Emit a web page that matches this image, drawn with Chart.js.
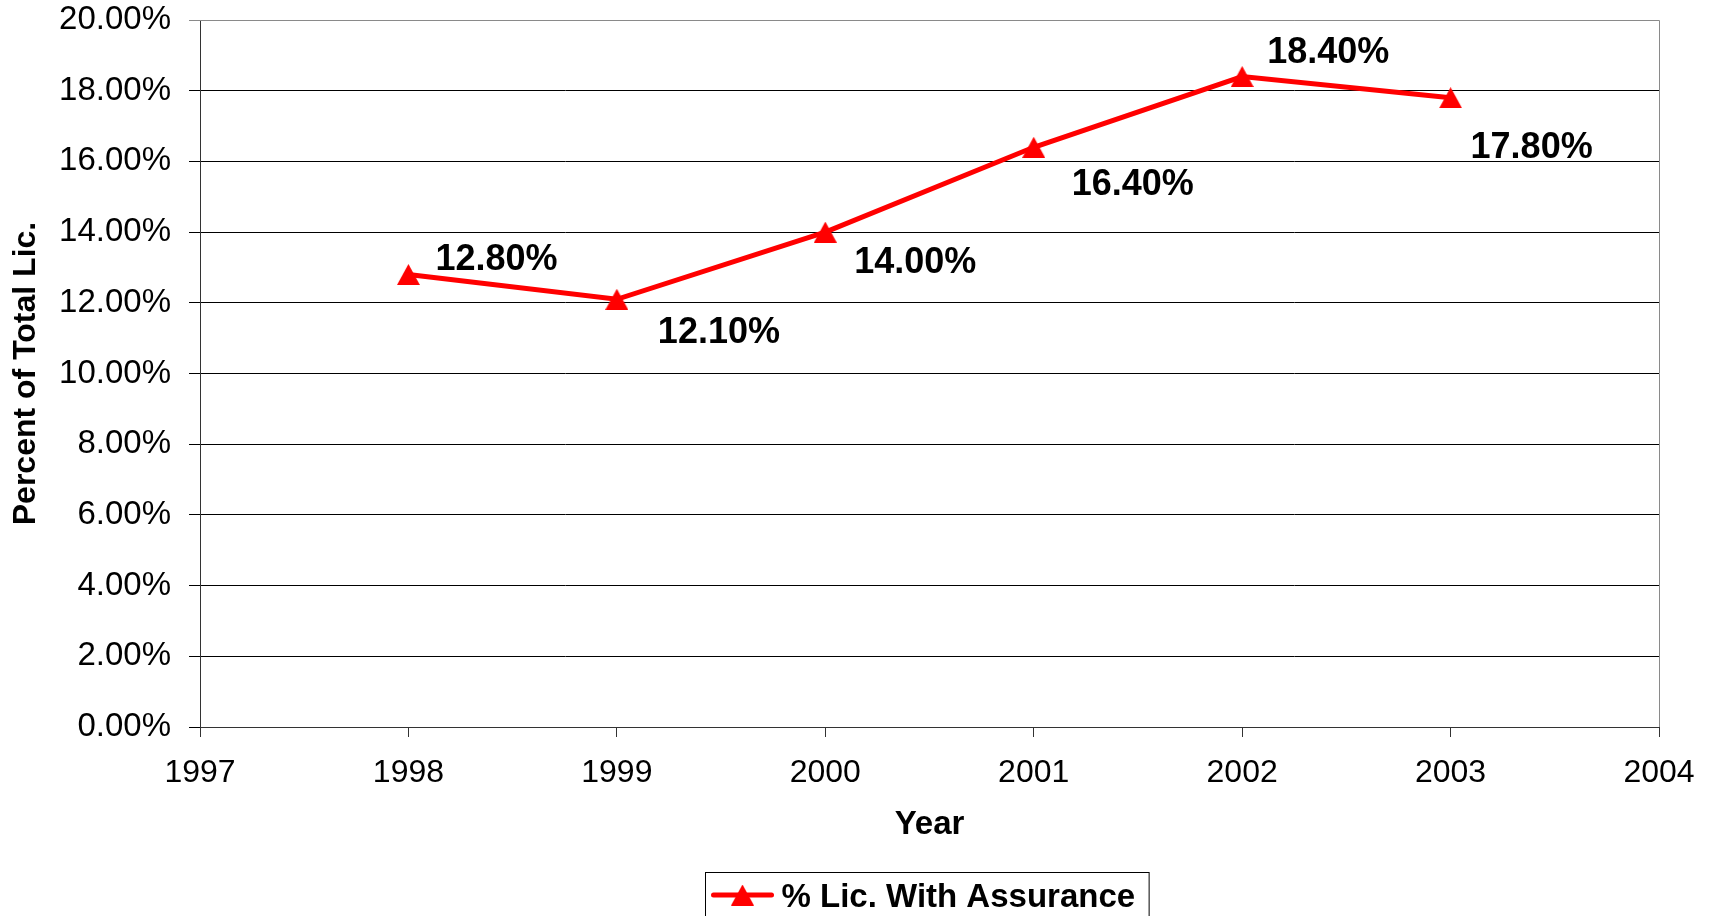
<!DOCTYPE html>
<html>
<head>
<meta charset="utf-8">
<title>% Lic. With Assurance</title>
<script src="https://cdn.jsdelivr.net/npm/chart.js@4.4.1/dist/chart.umd.min.js"></script>
<style>
    html, body { margin: 0; padding: 0; background: #fff; overflow: hidden; }
    #wrap { width: 1715px; height: 916px; }
</style>
</head>
<body>
<div id="wrap"><canvas id="chartLic" width="1715" height="916"></canvas></div>
<script>
const years = [1998, 1999, 2000, 2001, 2002, 2003];
const pctWithAssurance = [12.8, 12.1, 14.0, 16.4, 18.4, 17.8];
const seriesName = "% Lic. With Assurance";
const xTitle = "Year";
const yTitle = "Percent of Total Lic.";
const yMin = 0, yMax = 20, yStep = 2;
const xMin = 1997, xMax = 2004;

const RED = "#ff0000";
const FONT = "'Liberation Sans', Arial, sans-serif";

const el = (id) => document.getElementById(id);

// triangle marker, centred on the point like Excel does it
const makeTriangle = (w, h) => {
    const c = document.createElement("canvas");
    c.width = w;
    c.height = h;
    const g = c.getContext("2d");
    g.fillStyle = RED;
    g.beginPath();
    g.moveTo(w / 2, 0);
    g.lineTo(w, h);
    g.lineTo(0, h);
    g.closePath();
    g.fill();
    return c;
};
const marker = makeTriangle(23, 21);

// hand placed data labels (offset from the point, px)
const labelOffsets = [[27, -14], [41, 34], [29, 31], [38, 38], [25, -23], [20, 50]];

const pointLabels = {
    id: "pointLabels",
    afterDatasetsDraw(chart) {
        const ctx = chart.ctx;
        const meta = chart.getDatasetMeta(0);
        ctx.save();
        ctx.font = `bold 36px ${FONT}`;
        ctx.fillStyle = "#000";
        ctx.textAlign = "left";
        ctx.textBaseline = "middle";
        meta.data.forEach((pt, i) => {
            const [dx, dy] = labelOffsets[i];
            const v = chart.data.datasets[0].data[i].y;
            ctx.fillText(v.toFixed(2) + "%", pt.x + dx, pt.y + dy);
        });
        ctx.restore();
    }
};

const plotFrame = {
    id: "plotFrame",
    beforeDatasetsDraw(chart) {
        const { ctx, chartArea: a } = chart;
        ctx.save();
        ctx.strokeStyle = "#8a8a8a";
        ctx.lineWidth = 1;
        ctx.beginPath();
        ctx.moveTo(a.left, a.top + 0.5);
        ctx.lineTo(a.right + 0.5, a.top + 0.5);
        ctx.lineTo(a.right + 0.5, a.bottom);
        ctx.stroke();
        ctx.restore();
    }
};

// Excel style boxed legend under the axis title
const boxLegend = {
    id: "boxLegend",
    afterDraw(chart) {
        const { ctx, chartArea: a } = chart;
        const label = chart.data.datasets[0].label;
        ctx.save();
        ctx.font = `bold 33px ${FONT}`;
        const tw = ctx.measureText(label).width;
        const w = 8 + 58 + 10 + tw + 14;
        const left = Math.round((a.left + a.right) / 2 - w / 2) - 2.5;
        const top = 872.5;
        ctx.strokeStyle = "#000";
        ctx.lineWidth = 1;
        ctx.strokeRect(left, top, w, 80);

        const ly = 895;
        ctx.strokeStyle = RED;
        ctx.lineWidth = 5;
        ctx.lineCap = "round";
        ctx.beginPath();
        ctx.moveTo(left + 8, ly);
        ctx.lineTo(left + 66, ly);
        ctx.stroke();
        ctx.drawImage(marker, left + 37 - marker.width / 2, ly - marker.height / 2);

        ctx.fillStyle = "#000";
        ctx.textAlign = "left";
        ctx.textBaseline = "alphabetic";
        ctx.fillText(label, left + 76, 907);
        ctx.restore();
    }
};

const chartLic = new Chart(el("chartLic").getContext("2d"), {
    type: "line",
    data: {
        datasets: [{
            label: seriesName,
            data: years.map((y, i) => ({ x: y, y: pctWithAssurance[i] })),
            borderColor: RED,
            backgroundColor: RED,
            borderWidth: 5,
            pointStyle: marker,
            pointRadius: 12,
            pointHoverRadius: 12,
            tension: 0,
            fill: false,
        }],
    },
    options: {
        responsive: false,
        animation: false,
        events: [],
        layout: { padding: { top: 20, right: 56, left: 0, bottom: 0 } },
        scales: {
            x: {
                type: "linear",
                min: xMin,
                max: xMax,
                afterFit: (s) => { s.height = 189; },
                ticks: {
                    stepSize: 1,
                    padding: 17,
                    color: "#000",
                    font: { family: FONT, size: 32 },
                    callback: (v) => String(v),
                },
                grid: {
                    drawOnChartArea: false,
                    drawTicks: true,
                    tickLength: 10,
                    color: "#333",
                },
                border: { color: "#333", width: 1 },
                title: {
                    display: true,
                    text: xTitle,
                    color: "#000",
                    font: { family: FONT, size: 33, weight: "bold" },
                    padding: { top: 0, bottom: 71 },
                },
            },
            y: {
                min: yMin,
                max: yMax,
                afterFit: (s) => {
                    s.width = 200;
                    // tick padding would otherwise push the plot top down
                    s.paddingTop = 0;
                    s.paddingBottom = 0;
                },
                ticks: {
                    stepSize: yStep,
                    padding: 18,
                    color: "#000",
                    font: { family: FONT, size: 33 },
                    callback: (v) => v.toFixed(2) + "%",
                },
                grid: {
                    tickLength: 11,
                    lineWidth: 1,
                    color: (c) => (c.tick && c.tick.value === yMax ? "#8a8a8a" : "#000"),
                },
                border: { color: "#333", width: 1 },
                title: {
                    display: true,
                    text: yTitle,
                    color: "#000",
                    font: { family: FONT, size: 32, weight: "bold" },
                    padding: { top: 7, bottom: 0 },
                },
            },
        },
        plugins: {
            legend: { display: false },
            tooltip: { enabled: false },
        },
    },
    plugins: [plotFrame, pointLabels, boxLegend],
});
</script>
</body>
</html>
